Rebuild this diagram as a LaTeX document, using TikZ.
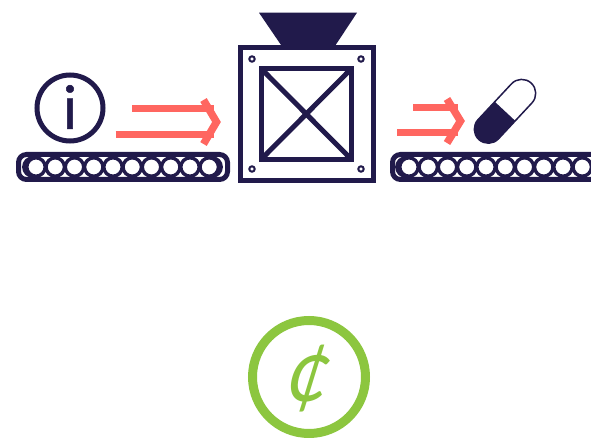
\documentclass[tikz,border=0pt]{standalone}
\usepackage{fontspec}
\setmainfont{Lato}
\newfontfamily\boldi[FakeBold=0.6]{Lato}
\definecolor{navy}{HTML}{211A4B}
\definecolor{coral}{HTML}{FF6660}
\definecolor{leaf}{HTML}{8CC63F}
\tikzset{
  x=1pt,y=-1pt,
  band/.style={draw=navy,line width=5pt,rounded corners=8pt},
  roller/.style={draw=navy,line width=3.4pt,fill=white},
  shaft/.style={draw=coral,line width=7pt},
  chevron/.style={draw=coral,line width=7.5pt,miter limit=10},
  frame/.style={draw=navy,line width=5pt},
  bolt/.style={draw=navy,line width=2pt,fill=white},
}
\begin{document}
\begin{tikzpicture}
\useasboundingbox (0,0) rectangle (591,438);
\fill[white] (0,0) rectangle (591,438);
% left conveyor
\begin{scope}
\clip[rounded corners=8pt] (18.5,154.5) rectangle (227.5,179.5);
\draw[roller] (33,167) circle[radius=9.2];
\draw[roller] (212,167) circle[radius=9.2];
\foreach \k in {0,...,9}{\draw[roller] ({36+19.25*\k},167) circle[radius=9.2];}
\end{scope}
\draw[band] (18.5,154.5) rectangle (227.5,179.5);
% info circle
\draw[navy,line width=5pt] (70,108) circle[radius=33];
\node[text=navy,font=\boldi\fontsize{60}{60}\selectfont,inner sep=0pt] (info) at (70,107) {i};
% arrow 1
\draw[shaft] (132,109) -- (214,109);
\draw[shaft] (115.5,135) -- (214,135);
\draw[chevron] (203.5,100) -- (216.5,122) -- (203.5,144);
% machine
\fill[navy] (259,12.7) -- (357,12.7) -- (335,46) -- (281.7,46) -- cycle;
\draw[frame] (240,47.5) rectangle (373,180.5);
\draw[frame] (261,68.5) rectangle (351.5,159.5);
\draw[frame] (261,68.5) -- (351.5,159.5);
\draw[frame] (351.5,68.5) -- (261,159.5);
\foreach \px/\py in {252/59,361/59,252/169,361/169}{\draw[bolt] (\px,\py) circle[radius=2.7];}
% arrow 2
\draw[shaft] (413,108) -- (458,108);
\draw[shaft] (397,133) -- (458,133);
\draw[chevron] (447,99) -- (460.5,121) -- (447,143);
% capsule
\begin{scope}[shift={(505,111.3)},rotate=47]
\begin{scope}
\clip (-45,-20) rectangle (0,20);
\fill[navy,rounded corners=14pt] (-38.5,-14) rectangle (38.5,14);
\end{scope}
\draw[navy,line width=1.5pt,rounded corners=14pt] (-38.5,-14) rectangle (38.5,14);
\end{scope}
% right conveyor
\begin{scope}
\clip[rounded corners=8pt] (392.5,154.5) rectangle (640,179.5);
\draw[roller] (406,167) circle[radius=9.2];
\foreach \k in {0,...,9}{\draw[roller] ({409+19.25*\k},167) circle[radius=9.2];}
\end{scope}
\begin{scope}
\clip (385,145) rectangle (591,190);
\draw[band] (392.5,154.5) rectangle (640,179.5);
\end{scope}
% cent
\draw[leaf,line width=9pt] (309,377) circle[radius=56.5];
\node[text=leaf,font=\fontsize{90}{90}\selectfont,inner sep=0pt,transform shape,xslant=.25,xscale=.85] (cent) at (309,379) {¢};
\end{tikzpicture}
\end{document}
